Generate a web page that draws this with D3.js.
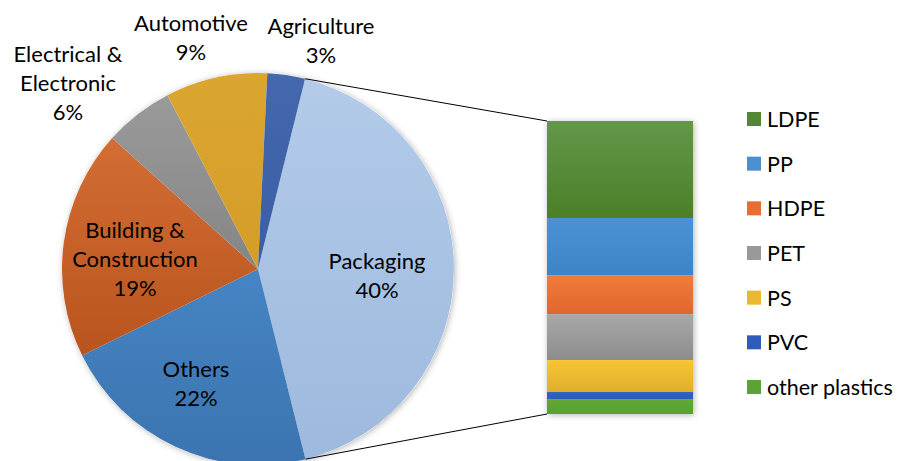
<!DOCTYPE html>
<html>
<head>
<meta charset="utf-8">
<script src="https://cdn.jsdelivr.net/npm/d3@7"></script>
<style>
  html, body { margin: 0; padding: 0; background: #fff; }
  svg { display: block; font-family: Lato, "Open Sans", sans-serif; }
</style>
</head>
<body>
<svg id="chart" width="901" height="461"></svg>
<script>
// ---- Data ----
const pieCategories = ["Packaging", "Others", "Building & Construction", "Electrical & Electronic", "Automotive", "Agriculture"];
const pieShares = [42.2, 21.6, 18.9, 5.7, 8.4, 3.1];           // slice sizes as drawn
const pieLabels = ["40%", "22%", "19%", "6%", "9%", "3%"];        // percent labels as printed
const pieLabelLines = [["Packaging"], ["Others"], ["Building &", "Construction"], ["Electrical &", "Electronic"], ["Automotive"], ["Agriculture"]];
const pieColors = [["#b3cbe9", "#9db9dd"], ["#4684c3", "#3b74b0"], ["#d26d33", "#ba541e"], ["#9a9a9a", "#858585"], ["#dba630", "#d49d28"], ["#4468ae", "#3a5da3"]];

const barCategories = ["LDPE", "PP", "HDPE", "PET", "PS", "PVC", "other plastics"];
const barValues = [33.1, 19.5, 13.3, 15.7, 10.9, 2.4, 5.1];
const barColors = [["#63974a", "#4c7f27"], ["#4a92d6", "#3d84c7"], ["#f07c3a", "#e1662e"], ["#a8a8a8", "#8c8c8c"], ["#f8c632", "#e0ae2d"], ["#3063c2", "#2c5bb6"], ["#61a736", "#59a02f"]];
const legendColors = ["#548733", "#4a8fd0", "#e96d30", "#999999", "#ebb830", "#2e5cb8", "#5ba237"];

// ---- Layout ----
const svg = d3.select("#chart");
const cx = 258, cy = 269, R = 196;
const startDeg = 13.9;
const toRad = d => d * Math.PI / 180;

const defs = svg.append("defs");
const shadow = defs.append("filter").attr("id", "shadow").attr("x", "-10%").attr("y", "-10%").attr("width", "120%").attr("height", "120%");
shadow.append("feDropShadow").attr("dx", 1).attr("dy", 1).attr("stdDeviation", 3).attr("flood-color", "#000").attr("flood-opacity", 0.3);

function addGrad(id, c) {
  const g = defs.append("linearGradient").attr("id", id).attr("x1", 0).attr("y1", 0).attr("x2", 0).attr("y2", 1);
  g.append("stop").attr("offset", "0%").attr("stop-color", c[0]);
  g.append("stop").attr("offset", "100%").attr("stop-color", c[1]);
}
pieColors.forEach((c, i) => addGrad("pg" + i, c));
barColors.forEach((c, i) => addGrad("bg" + i, c));

// ---- Pie ----
const pie = d3.pie().sort(null).value(d => d)
  .startAngle(toRad(startDeg)).endAngle(toRad(startDeg + 360));
const arcs = pie(pieShares);
const arc = d3.arc().innerRadius(0).outerRadius(R);

const pieG = svg.append("g").attr("transform", `translate(${cx},${cy})`);
pieG.append("circle").attr("r", R).attr("fill", "#fff").attr("filter", "url(#shadow)");
pieG.selectAll("path.slice").data(arcs).join("path")
  .attr("class", "slice")
  .attr("d", arc)
  .attr("fill", (d, i) => `url(#pg${i})`)
  .attr("stroke", "none");

// ---- Bar (stacked) ----
const barX0 = 547, barX1 = 693, barTop = 121, barBottom = 414;
const total = d3.sum(barValues);
const y = d3.scaleLinear().domain([0, total]).range([barTop, barBottom]);
const cum = d3.cumsum(barValues);
const segs = barValues.map((v, i) => ({ v, i, y0: cum[i] - v, y1: cum[i] }));

svg.append("rect").attr("x", barX0).attr("y", barTop).attr("width", barX1 - barX0).attr("height", barBottom - barTop)
  .attr("fill", "#fff").attr("filter", "url(#shadow)");
svg.selectAll("rect.seg").data(segs).join("rect")
  .attr("class", "seg")
  .attr("x", barX0)
  .attr("width", barX1 - barX0)
  .attr("y", d => y(d.y0))
  .attr("height", d => y(d.y1) - y(d.y0))
  .attr("fill", d => `url(#bg${d.i})`);

// ---- Connector lines ----
const pk = arcs[0];
const p1 = [cx + R * Math.sin(pk.startAngle), cy - R * Math.cos(pk.startAngle)];
const p2 = [cx + R * Math.sin(pk.endAngle), cy - R * Math.cos(pk.endAngle)];
svg.append("line").attr("x1", p1[0]).attr("y1", p1[1]).attr("x2", barX0).attr("y2", y(0))
  .attr("stroke", "#000").attr("stroke-width", 1);
svg.append("line").attr("x1", p2[0]).attr("y1", p2[1]).attr("x2", barX0).attr("y2", y(total))
  .attr("stroke", "#000").attr("stroke-width", 1);

// ---- Pie labels ----
const labelPos = [
  { x: 377, y: 269 },
  { x: 196, y: 377 },
  { x: 135, y: 238 },
  { x: 68, y: 62 },
  { x: 191, y: 31 },
  { x: 321, y: 34 }
];
const lh = 29;
pieCategories.forEach((c, i) => {
  const lines = pieLabelLines[i].concat([pieLabels[i]]);
  const t = svg.append("text").attr("text-anchor", "middle")
    .attr("font-size", 22).attr("fill", "#000");
  lines.forEach((ln, k) => {
    t.append("tspan").attr("x", labelPos[i].x).attr("y", labelPos[i].y + k * lh).text(ln);
  });
});

// ---- Legend ----
const legY = d3.scalePoint().domain(barCategories).range([119, 387]);
const leg = svg.append("g");
barCategories.forEach((c, i) => {
  leg.append("rect").attr("x", 747).attr("y", legY(c) - 7).attr("width", 14).attr("height", 14).attr("fill", legendColors[i]);
  leg.append("text").attr("x", 767).attr("y", legY(c) + 8).attr("font-size", 21.5).attr("fill", "#000").text(c);
});
</script>
</body>
</html>
